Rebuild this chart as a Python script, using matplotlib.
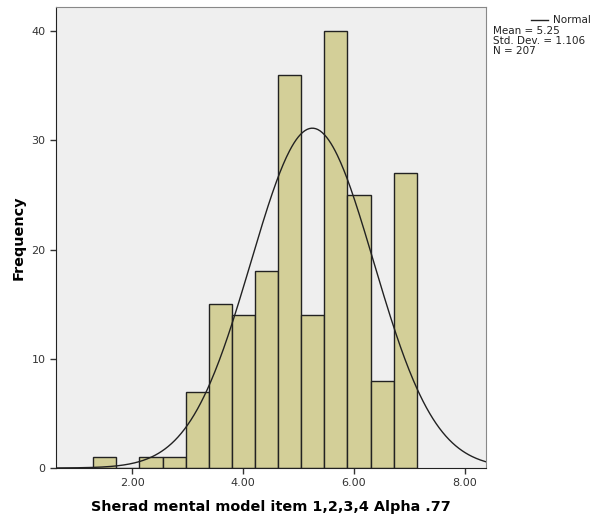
import numpy as np
import matplotlib
matplotlib.use("Agg")
import matplotlib.pyplot as plt

# histogram counts (bins of 5/12 starting at 1.30)
bin_start = 1.30
bin_width = 5 / 12
counts = [1, 0, 1, 1, 7, 15, 14, 18, 36, 14, 40, 25, 8, 27]
mean, sd, n = 5.25, 1.106, 207
xticks = [2.0, 4.0, 6.0, 8.0]
yticks = [0, 10, 20, 30, 40]

fig = plt.figure(figsize=(5.95, 5.15), dpi=100)
ax = fig.add_axes([0.0941, 0.0913, 0.7227, 0.895])
ax.set_facecolor('#efefef')

edges = bin_start + bin_width * np.arange(len(counts))
ax.bar(edges, counts, width=bin_width, align='edge', color='#d3cf98',
       edgecolor='#222222', linewidth=1.0, zorder=2)

xs = np.linspace(0.6, 8.4, 400)
pdf = n * bin_width / (sd * np.sqrt(2 * np.pi)) * np.exp(-0.5 * ((xs - mean) / sd) ** 2)
ax.plot(xs, pdf, color='#222222', lw=1.0, zorder=3)

ax.set_xlim(0.63, 8.38)
ax.set_ylim(0, 42.2)
ax.set_xticks(xticks)
ax.set_xticklabels(['%.2f' % t for t in xticks])
ax.set_yticks(yticks)
ax.tick_params(direction='out', length=4, width=1, colors='#333333', labelsize=8)
for s in ax.spines.values():
    s.set_color('#888888')
ax.spines['left'].set_color('#222222')
ax.spines['bottom'].set_color('#222222')

ax.set_xlabel('Sherad mental model item 1,2,3,4 Alpha .77', fontsize=10.4,
              fontweight='bold', labelpad=8)
ax.set_ylabel('Frequency', fontsize=10.4, fontweight='bold', labelpad=4)

# legend-like annotation outside the plot
fig.add_artist(plt.Line2D([531 / 595, 548 / 595], [1 - 20 / 515] * 2,
                          color='#222222', lw=1.0))
fig.text(553 / 595, 1 - 20 / 515, 'Normal', fontsize=7.5, va='center', color='#222222')
fig.text(493 / 595, 1 - 31 / 515, 'Mean = %.2f' % mean, fontsize=7.5, va='center', color='#222222')
fig.text(493 / 595, 1 - 41 / 515, 'Std. Dev. = %.3f' % sd, fontsize=7.5, va='center', color='#222222')
fig.text(493 / 595, 1 - 51 / 515, 'N = %d' % n, fontsize=7.5, va='center', color='#222222')

fig.savefig('out.png', dpi=100)
